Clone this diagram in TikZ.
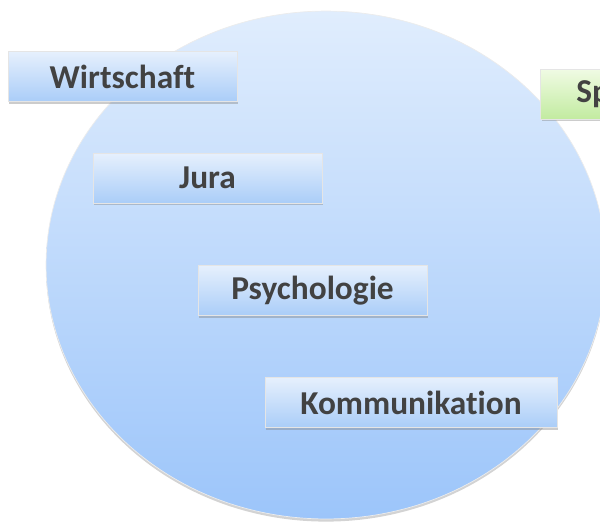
\documentclass[tikz,border=0pt]{standalone}
\usepackage{fontspec}
\setmainfont{Carlito}[Ligatures=NoCommon]
\usepackage{xcolor}
\definecolor{circtop}{HTML}{E0EDFD}
\definecolor{circbot}{HTML}{9CC5FA}
\definecolor{boxtop}{HTML}{E6F0FD}
\definecolor{boxbot}{HTML}{AACDF8}
\definecolor{greentop}{HTML}{F0FBE4}
\definecolor{greenbot}{HTML}{C2EBA0}
\definecolor{labelgray}{HTML}{424242}
\usepackage{tikz}
\usetikzlibrary{shadows, shapes.geometric}

\begin{document}
\begin{tikzpicture}[
  x=0.02cm, y=-0.02cm,
  field/.style={draw=white!85!gray, line width=0.4pt, top color=circtop, bottom color=circbot, drop shadow={opacity=0.35, shadow xshift=0pt, shadow yshift=-1.5pt}},
  topic/.style={draw=white!80!gray, line width=0.3pt, top color=boxtop, bottom color=boxbot, minimum width=4.58cm, minimum height=1cm, font=\fontsize{19}{21}\selectfont\bfseries, text=labelgray, drop shadow={opacity=0.4, shadow xshift=0.8pt, shadow yshift=-1.2pt}},
  extra/.style={topic, top color=greentop, bottom color=greenbot, anchor=west, align=left, inner xsep=0.72cm, text width=3.14cm}
]
\clip (0,0) rectangle (600,522);
% field circle
\node[field, ellipse, minimum width=11.2cm, minimum height=10.16cm, inner sep=0pt] (feld) at (326,265) {};
% topics
\node[topic] (wirt) at (122.5,76.5) {Wirtschaft};
\node[topic] (jura) at (207.5,178) {Jura};
\node[topic] (psych) at (312.5,290.5) {Psychologie};
\node[topic, minimum width=5.84cm] (komm) at (411,402.5) {Kommunikation};
\node[extra] (spr) at (540,94) {Sp};
\end{tikzpicture}
\end{document}
